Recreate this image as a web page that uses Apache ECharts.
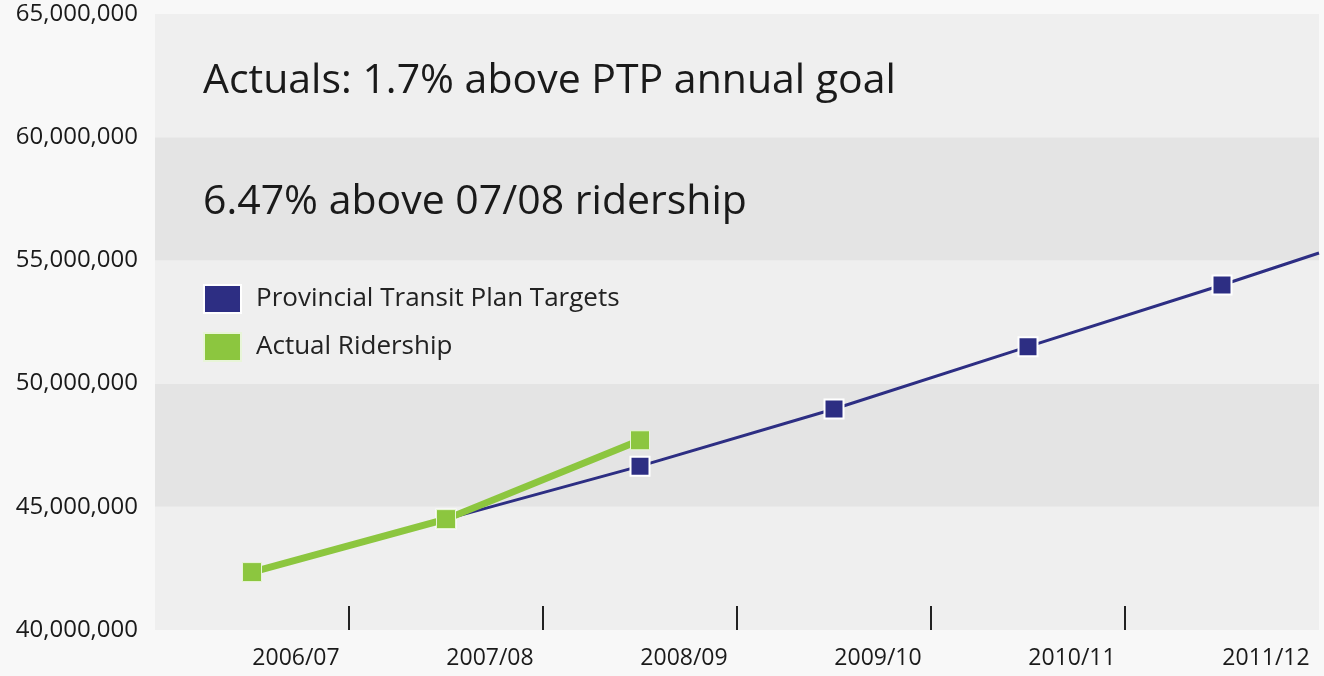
<!DOCTYPE html>
<html>
<head>
<meta charset="utf-8">
<script src="https://cdn.jsdelivr.net/npm/echarts@6/dist/echarts.min.js"></script>
<style>
  html, body { margin: 0; padding: 0; background: #f8f8f8; }
  #chart { width: 1324px; height: 676px; }
</style>
</head>
<body>
<div id="chart"></div>
<script>
// fiscal years shown on the x axis
const years = ['2006/07', '2007/08', '2008/09', '2009/10', '2010/11', '2011/12'];
// Provincial Transit Plan targets, [year index, riders]; last point is where the line leaves the plot
const targets = [
  [1, 44500000],
  [2, 46650000],
  [3, 48970000],
  [4, 51500000],
  [5, 54000000],
  [5.5, 55300000],
];
// actual ridership, [year index, riders]
const actuals = [
  [0, 42350000],
  [1, 44500000],
  [2, 47700000],
];
const yTicks = [40000000, 45000000, 50000000, 55000000, 60000000, 65000000];
const boundaries = [0.5, 1.5, 2.5, 3.5, 4.5];

const FONT = '"Open Sans", "Noto Sans", sans-serif';
const BLUE = '#2d2e83';
const GREEN = '#8cc63f';

const chart = echarts.init(document.getElementById('chart'));

chart.setOption({
  backgroundColor: '#f8f8f8',
  animation: false,
  title: [
    {
      text: 'Actuals: 1.7% above PTP annual goal',
      left: 203, top: 61, padding: 0,
      textStyle: { fontFamily: FONT, fontSize: 41, fontWeight: 'normal', color: '#1a1a1a' },
    },
    {
      text: '6.47% above 07/08 ridership',
      left: 203, top: 182, padding: 0,
      textStyle: { fontFamily: FONT, fontSize: 41, fontWeight: 'normal', color: '#1a1a1a' },
    },
  ],
  legend: {
    orient: 'vertical',
    left: 203, top: 284, padding: 0,
    icon: 'rect',
    itemWidth: 37, itemHeight: 28, itemGap: 18,
    textStyle: { fontFamily: FONT, fontSize: 26, color: '#222', padding: [0, 0, 0, 10] },
    data: ['Provincial Transit Plan Targets', 'Actual Ridership'],
  },
  grid: { left: 155, right: 5, top: 14, bottom: 46 },
  xAxis: {
    type: 'value',
    min: -0.5,
    max: 5.5,
    axisLine: { show: false },
    splitLine: { show: false },
    axisTick: {
      show: true, inside: true, length: 24,
      customValues: boundaries,
      lineStyle: { color: '#222', width: 2 },
    },
    axisLabel: {
      customValues: years.map((_, i) => i),
      formatter: (v) => years[Math.round(v)],
      fontFamily: FONT, fontSize: 23, color: '#1a1a1a',
      margin: 17,
      padding: [0, 0, 0, 88],
    },
  },
  yAxis: {
    type: 'value',
    min: 40000000,
    max: 65000000,
    interval: 5000000,
    axisLine: { show: false },
    axisTick: { show: false },
    splitLine: { show: false },
    splitArea: { show: true, areaStyle: { color: ['#efefef', '#e4e4e4'] } },
    axisLabel: {
      customValues: yTicks,
      formatter: (v) => v.toLocaleString('en-US'),
      fontFamily: FONT, fontSize: 24, color: '#1a1a1a',
      margin: 17,
    },
  },
  series: [
    {
      name: 'Provincial Transit Plan Targets',
      type: 'line',
      data: targets.map((p, i) => (i === targets.length - 1 ? { value: p, symbol: 'none' } : p)),
      color: BLUE,
      symbol: 'rect',
      symbolSize: 19,
      itemStyle: { color: BLUE, borderColor: '#ffffff', borderWidth: 2 },
      lineStyle: { color: BLUE, width: 3 },
      z: 2,
    },
    {
      name: 'Actual Ridership',
      type: 'line',
      data: actuals,
      color: GREEN,
      symbol: 'rect',
      symbolSize: 19,
      itemStyle: { color: GREEN, borderColor: '#e8f5d8', borderWidth: 1 },
      lineStyle: { color: GREEN, width: 7 },
      z: 3,
    },
  ],
});
</script>
</body>
</html>
